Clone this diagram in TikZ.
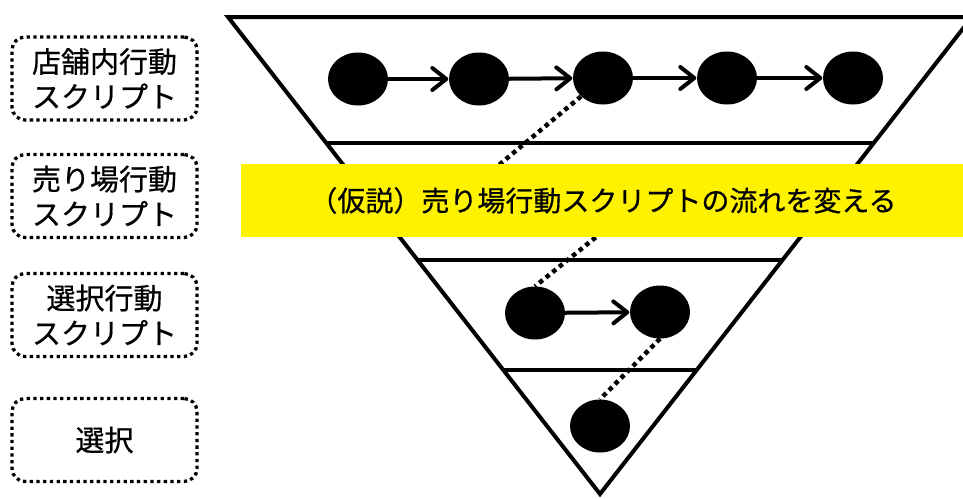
\documentclass[tikz,border=0pt]{standalone}
\usepackage{fontspec}
\newfontfamily\jp[FakeBold=0.6]{Noto Sans CJK JP}
\usetikzlibrary{shapes.geometric,arrows.meta}
\begin{document}
\begin{tikzpicture}[x=1pt,y=-1pt,
  layerbox/.style={draw,line width=3.3pt,dash pattern=on 3.3pt off 3.4pt,rounded corners=13pt,
    minimum width=185pt,minimum height=83pt,inner sep=0pt,align=center,
    font=\jp\fontsize{29}{35}\selectfont},
  dot/.style={ellipse,fill=black,minimum width=60pt,minimum height=53pt,inner sep=0pt},
  arr/.style={line width=4pt,-{Straight Barb[length=14pt,width=22pt,line cap=round,line join=round]},shorten >=0.5pt},
  dotconn/.style={line width=4.5pt,dash pattern=on 4.5pt off 4pt},
  edge/.style={line width=4pt},
  banner/.style={fill=yellow,minimum width=724pt,minimum height=73pt,inner sep=0pt,
    font=\jp\fontsize{28}{30}\selectfont}]
\useasboundingbox (0,0) rectangle (963,498);
% funnel
\coordinate (tl) at (228,17);
\coordinate (tr) at (972,17);
\coordinate (ap) at (600,494);
\draw[edge,line join=miter] (tl) -- (tr) -- (ap) -- cycle;
\path (tl) -- (ap) coordinate[pos=0.264] (l1L) coordinate[pos=0.509] (l2L) coordinate[pos=0.740] (l3L);
\path (tr) -- (ap) coordinate[pos=0.264] (l1R) coordinate[pos=0.509] (l2R) coordinate[pos=0.740] (l3R);
\draw[edge] (l1L) -- (l1R);
\draw[edge] (l2L) -- (l2R);
\draw[edge] (l3L) -- (l3R);
% left labels
\node[layerbox] (b1) at (104.5,78.5) {店舗内行動\\スクリプト};
\node[layerbox] (b2) at (104.5,196) {売り場行動\\スクリプト};
\node[layerbox] (b3) at (104.5,315) {選択行動\\スクリプト};
\node[layerbox] (b4) at (104.5,440) {選択};
% top row
\node[dot] (t1) at (358,79) {};
\node[dot] (t2) at (479,79) {};
\node[dot] (t3) at (603,78) {};
\node[dot] (t4) at (727,78) {};
\node[dot] (t5) at (853,78) {};
\draw[arr] (t1) -- (t2);
\draw[arr] (t2) -- (t3);
\draw[arr] (t3) -- (t4);
\draw[arr] (t4) -- (t5);
% middle row
\node[dot] (m1) at (535,313) {};
\node[dot] (m2) at (660,312) {};
\draw[arr] (m1) -- (m2);
% bottom
\node[dot] (d1) at (600,426) {};
% hidden points under banner
\coordinate (h1) at (457,200);
\coordinate (h2) at (642,200);
\draw[dotconn] (t3) -- (h1);
\draw[dotconn] (h2) -- (m1.north);
\draw[dotconn] (m2.south) -- (d1.north);
% banner
\node[banner] (hyp) at (603,200.5) {（仮説）売り場行動スクリプトの流れを変える};
\end{tikzpicture}
\end{document}
